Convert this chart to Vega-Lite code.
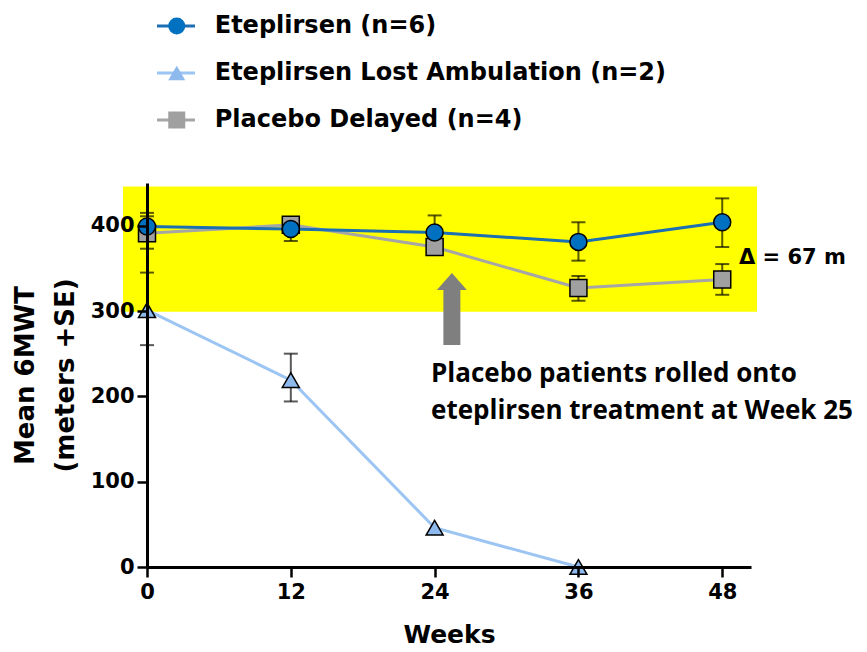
{
  "$schema": "https://vega.github.io/schema/vega-lite/v6.json",
  "width": 604,
  "height": 384,
  "autosize": {"type": "none"},
  "padding": {"left": 147, "top": 183, "right": 116, "bottom": 85},
  "background": "white",
  "config": {
    "view": {"stroke": null},
    "axis": {
      "grid": false,
      "domainColor": "#000",
      "domainWidth": 3,
      "tickColor": "#000",
      "tickWidth": 2.5,
      "tickSize": 10,
      "labelFont": "DejaVu Sans",
      "labelFontWeight": "bold",
      "labelFontSize": 21,
      "labelColor": "#000",
      "labelFlush": false,
      "titleFont": "DejaVu Sans",
      "titleFontWeight": "bold",
      "titleColor": "#000"
    }
  },
  "datasets": {
    "series": [
      {"series": "Eteplirsen Lost Ambulation (n=2)", "week": 0, "mean": 301, "lo": 260, "hi": 345},
      {"series": "Eteplirsen Lost Ambulation (n=2)", "week": 12, "mean": 219, "lo": 194, "hi": 250},
      {"series": "Eteplirsen Lost Ambulation (n=2)", "week": 24, "mean": 46},
      {"series": "Eteplirsen Lost Ambulation (n=2)", "week": 36, "mean": 0},
      {"series": "Placebo Delayed (n=4)", "week": 0, "mean": 391, "lo": 373, "hi": 411},
      {"series": "Placebo Delayed (n=4)", "week": 12, "mean": 401, "lo": 393, "hi": 409},
      {"series": "Placebo Delayed (n=4)", "week": 24, "mean": 375, "lo": 368, "hi": 383},
      {"series": "Placebo Delayed (n=4)", "week": 36, "mean": 327, "lo": 312, "hi": 341},
      {"series": "Placebo Delayed (n=4)", "week": 48, "mean": 337, "lo": 319, "hi": 355},
      {"series": "Eteplirsen (n=6)", "week": 0, "mean": 399, "lo": 383, "hi": 415},
      {"series": "Eteplirsen (n=6)", "week": 12, "mean": 396, "lo": 382, "hi": 410},
      {"series": "Eteplirsen (n=6)", "week": 24, "mean": 392, "lo": 372, "hi": 412},
      {"series": "Eteplirsen (n=6)", "week": 36, "mean": 381, "lo": 359, "hi": 404},
      {"series": "Eteplirsen (n=6)", "week": 48, "mean": 404, "lo": 375, "hi": 432}
    ],
    "band": [{"name": "target range", "x0": -2, "x1": 50.9, "y0": 299, "y1": 446}],
    "arrow": [{"name": "Week 25 switch", "week": 25.44, "value": 302.3}],
    "notes": [
      {"label": "Placebo patients rolled onto", "week": 23.7, "value": 217.2},
      {"label": "eteplirsen treatment at Week 25", "week": 23.7, "value": 173.1}
    ],
    "delta": [{"label": "Δ = 67 m", "week": 49.4, "value": 355}]
  },
  "layer": [
    {
      "data": {"name": "band"},
      "mark": {"type": "rect", "color": "#ffff00"},
      "encoding": {
        "x": {"field": "x0", "type": "quantitative", "scale": {"domain": [0, 50.4], "nice": false, "zero": false},
          "axis": {"values": [0, 12, 24, 36, 48], "title": "Weeks", "titleFontSize": 25, "titlePadding": 20, "labelPadding": 4, "zindex": 1}},
        "x2": {"field": "x1"},
        "y": {"field": "y0", "type": "quantitative", "scale": {"domain": [0, 450], "nice": false},
          "axis": {"values": [0, 100, 200, 300, 400], "title": ["Mean 6MWT", "(meters +SE)"], "titleFontSize": 26, "titleLineHeight": 40, "titlePadding": 12, "labelPadding": 3, "zindex": 1}},
        "y2": {"field": "y1"}
      }
    },
    {
      "data": {"name": "series"},
      "mark": {"type": "line", "strokeWidth": 3},
      "encoding": {
        "x": {"field": "week", "type": "quantitative"},
        "y": {"field": "mean", "type": "quantitative"},
        "stroke": {
          "field": "series",
          "type": "nominal",
          "scale": {
            "domain": ["Eteplirsen (n=6)", "Eteplirsen Lost Ambulation (n=2)", "Placebo Delayed (n=4)"],
            "range": ["#1c6fb2", "#9cc5f3", "#a6a6a6"]
          },
          "legend": {
            "orient": "none",
            "legendX": 17,
            "legendY": -169,
            "title": null,
            "padding": 0,
            "symbolType": "M-2.235,0H2.235",
            "symbolSize": 289,
            "symbolStrokeWidth": 3,
            "labelOpacity": 0,
            "labelFont": "DejaVu Sans",
            "labelFontWeight": "bold",
            "labelFontSize": 24,
            "labelLimit": 600,
            "labelOffset": 26,
            "rowPadding": 23
          }
        }
      }
    },
    {
      "data": {"name": "series"},
      "transform": [{"filter": "isValid(datum.lo)"}],
      "mark": {"type": "rule", "color": "#000", "opacity": 0.65, "strokeWidth": 2},
      "encoding": {
        "x": {"field": "week", "type": "quantitative"},
        "y": {"field": "lo", "type": "quantitative"},
        "y2": {"field": "hi"}
      }
    },
    {
      "data": {"name": "series"},
      "transform": [{"filter": "isValid(datum.lo)"}],
      "mark": {"type": "tick", "orient": "horizontal", "color": "#000", "opacity": 0.65, "size": 14, "thickness": 2},
      "encoding": {
        "x": {"field": "week", "type": "quantitative"},
        "y": {"field": "lo", "type": "quantitative"}
      }
    },
    {
      "data": {"name": "series"},
      "transform": [{"filter": "isValid(datum.hi)"}],
      "mark": {"type": "tick", "orient": "horizontal", "color": "#000", "opacity": 0.65, "size": 14, "thickness": 2},
      "encoding": {
        "x": {"field": "week", "type": "quantitative"},
        "y": {"field": "hi", "type": "quantitative"}
      }
    },
    {
      "data": {"name": "series"},
      "mark": {"type": "point", "filled": true, "size": 289, "stroke": "#000", "strokeWidth": 1.5, "opacity": 1},
      "encoding": {
        "x": {"field": "week", "type": "quantitative"},
        "y": {"field": "mean", "type": "quantitative"},
        "shape": {
          "field": "series",
          "type": "nominal",
          "scale": {"range": ["circle", "triangle-up", "square"]},
          "legend": {
            "orient": "none",
            "legendX": 17.75,
            "legendY": -169,
            "title": null,
            "padding": 0,
            "symbolSize": 289,
            "symbolStrokeColor": "#000",
            "symbolStrokeWidth": 1.5,
            "labelFont": "DejaVu Sans",
            "labelFontWeight": "bold",
            "labelFontSize": 24,
            "labelColor": "#000",
            "labelLimit": 600,
            "labelOffset": 26,
            "rowPadding": 23
          }
        },
        "fill": {
          "field": "series",
          "type": "nominal",
          "scale": {"range": ["#0070c0", "#8db9ec", "#a0a0a0"]},
          "legend": {
            "orient": "none",
            "legendX": 17.75,
            "legendY": -169,
            "title": null,
            "padding": 0,
            "symbolSize": 289,
            "symbolStrokeColor": "#000",
            "symbolStrokeWidth": 1.5,
            "labelFont": "DejaVu Sans",
            "labelFontWeight": "bold",
            "labelFontSize": 24,
            "labelColor": "#000",
            "labelLimit": 600,
            "labelOffset": 26,
            "rowPadding": 23
          }
        }
      }
    },
    {
      "data": {"name": "arrow"},
      "mark": {
        "type": "point",
        "filled": true,
        "opacity": 1,
        "color": "#7f7f7f",
        "strokeWidth": 0,
        "size": 5184,
        "shape": "M0,-1L0.417,-0.528L0.236,-0.528L0.236,1L-0.236,1L-0.236,-0.528L-0.417,-0.528Z"
      },
      "encoding": {
        "x": {"field": "week", "type": "quantitative"},
        "y": {"field": "value", "type": "quantitative"}
      }
    },
    {
      "data": {"name": "notes"},
      "mark": {"type": "text", "align": "left", "baseline": "alphabetic", "font": "Open Sans", "fontWeight": "bold", "fontSize": 26, "color": "#000"},
      "encoding": {
        "x": {"field": "week", "type": "quantitative"},
        "y": {"field": "value", "type": "quantitative"},
        "text": {"field": "label"}
      }
    },
    {
      "data": {"name": "delta"},
      "mark": {"type": "text", "align": "left", "baseline": "alphabetic", "font": "DejaVu Sans", "fontWeight": "bold", "fontSize": 21, "color": "#000"},
      "encoding": {
        "x": {"field": "week", "type": "quantitative"},
        "y": {"field": "value", "type": "quantitative"},
        "text": {"field": "label"}
      }
    }
  ]
}
